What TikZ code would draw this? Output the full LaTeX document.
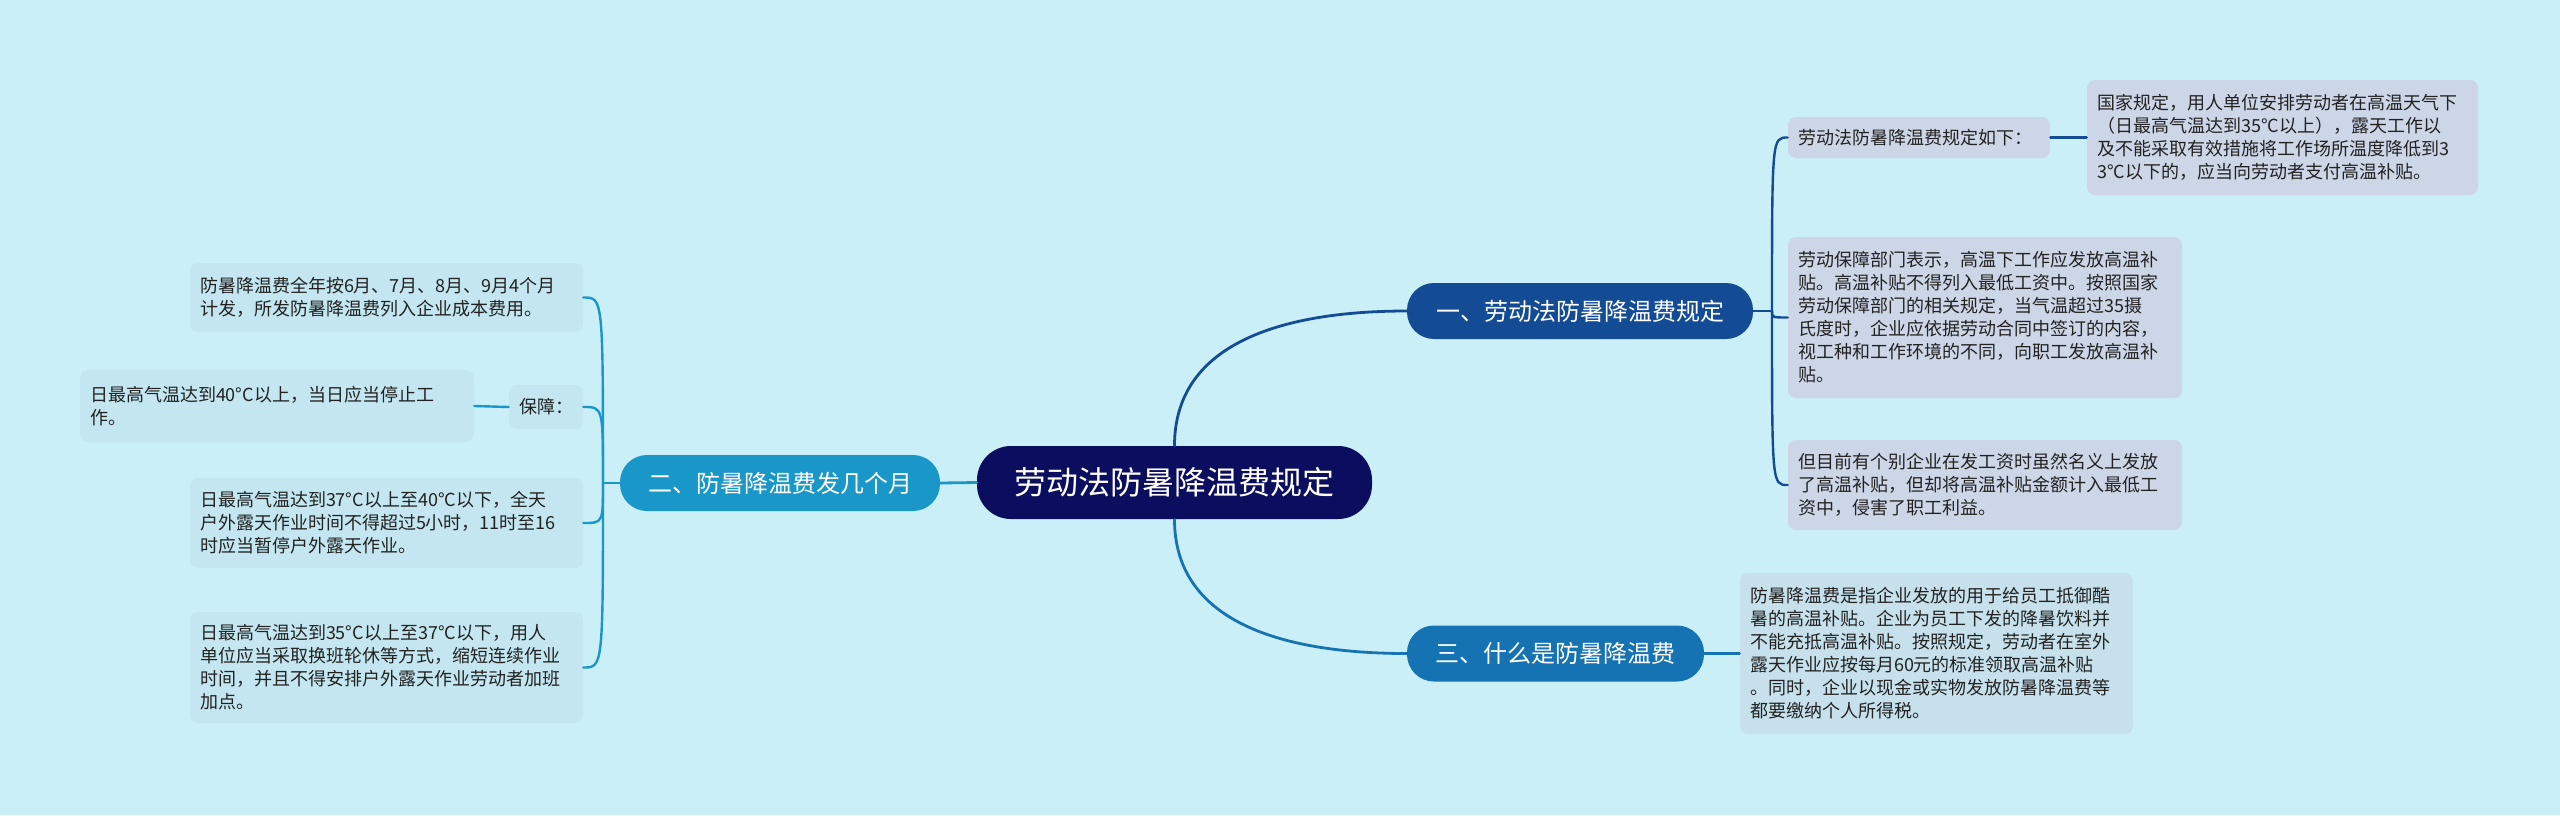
\documentclass[tikz,border=0pt]{standalone}
\usepackage{fontspec}
\setmainfont{Noto Sans CJK SC}
\usepackage{xcolor}
\definecolor{c-bg}{HTML}{CBEFF7}
\definecolor{c-root}{HTML}{0B0E5E}
\definecolor{c-one}{HTML}{134C95}
\definecolor{c-two}{HTML}{1A97C9}
\definecolor{c-three}{HTML}{1673B3}
\definecolor{c-leafa}{HTML}{CCD6E7}
\definecolor{c-leafb}{HTML}{C3E6F0}
\definecolor{c-leafc}{HTML}{C6E1EC}
\definecolor{c-txt}{HTML}{222222}

\begin{document}
\begin{tikzpicture}[x=0.5pt,y=-0.5pt,line cap=round,
  rootnode/.style={fill=c-root,text=white,rounded corners=17pt,font=\fontsize{16}{19}\selectfont,minimum width=197.5pt,minimum height=36.5pt,inner sep=0pt},
  branchnode/.style={fill=#1,text=white,rounded corners=13.5pt,font=\fontsize{12}{14}\selectfont,minimum height=28pt,inner sep=0pt},
  leafnode/.style={fill=#1,text=c-txt,rounded corners=4pt,font=\fontsize{9}{11.5}\selectfont,align=left,inner xsep=5pt,inner ysep=0pt},
  link/.style={draw=#1,line width=1.2pt},
  mainlink/.style={draw=#1,line width=1.4pt}]
\fill[c-bg] (0,0) rectangle (2560,815);
\useasboundingbox (0,0) rectangle (2560,815);
\node[rootnode] (root) at (1174.5,482.5) {劳动法防暑降温费规定};
\node[branchnode=c-one,minimum width=173pt] (b1) at (1580,311) {一、劳动法防暑降温费规定};
\node[branchnode=c-two,minimum width=160pt] (b2) at (780,483) {二、防暑降温费发几个月};
\node[branchnode=c-three,minimum width=148.5pt] (b3) at (1555.5,653.5) {三、什么是防暑降温费};
\node[leafnode=c-leafa,text width=121pt,minimum height=20.5pt] (a1) at (1919,137.5) {劳动法防暑降温费规定如下：};
\node[leafnode=c-leafa,text width=185.5pt,minimum height=57.5pt] (a2) at (2282.5,137.5) {国家规定，用人单位安排劳动者在高温天气下\\（日最高气温达到35°C以上），露天工作以\\及不能采取有效措施将工作场所温度降低到3\\3°C以下的，应当向劳动者支付高温补贴。};
\node[leafnode=c-leafa,text width=187pt,minimum height=80.5pt] (a3) at (1985,317.5) {劳动保障部门表示，高温下工作应发放高温补\\贴。高温补贴不得列入最低工资中。按照国家\\劳动保障部门的相关规定，当气温超过35摄\\氏度时，企业应依据劳动合同中签订的内容，\\视工种和工作环境的不同，向职工发放高温补\\贴。};
\node[leafnode=c-leafa,text width=187pt,minimum height=45pt] (a4) at (1985,485) {但目前有个别企业在发工资时虽然名义上发放\\了高温补贴，但却将高温补贴金额计入最低工\\资中，侵害了职工利益。};
\node[leafnode=c-leafc,text width=186.5pt,minimum height=80.5pt] (c1) at (1936.5,653.5) {防暑降温费是指企业发放的用于给员工抵御酷\\暑的高温补贴。企业为员工下发的降暑饮料并\\不能充抵高温补贴。按照规定，劳动者在室外\\露天作业应按每月60元的标准领取高温补贴\\。同时，企业以现金或实物发放防暑降温费等\\都要缴纳个人所得税。};
\node[leafnode=c-leafb,text width=186.5pt,minimum height=34.5pt] (l1) at (386.5,297.5) {防暑降温费全年按6月、7月、8月、9月4个月\\计发，所发防暑降温费列入企业成本费用。};
\node[leafnode=c-leafb,text width=27pt,minimum height=22pt] (l2) at (546,407) {保障：};
\node[leafnode=c-leafb,text width=187pt,minimum height=36pt] (l3) at (277,406) {日最高气温达到40°C以上，当日应当停止工\\作。};
\node[leafnode=c-leafb,text width=186.5pt,minimum height=45pt] (l4) at (386.5,523) {日最高气温达到37°C以上至40°C以下，全天\\户外露天作业时间不得超过5小时，11时至16\\时应当暂停户外露天作业。};
\node[leafnode=c-leafb,text width=186.5pt,minimum height=55.5pt] (l5) at (386.5,667.5) {日最高气温达到35°C以上至37°C以下，用人\\单位应当采取换班轮休等方式，缩短连续作业\\时间，并且不得安排户外露天作业劳动者加班\\加点。};
\draw[mainlink=c-one] (root.north) .. controls +(0,-106) and +(-117,0) .. (b1.west);
\draw[mainlink=c-three] (root.south) .. controls +(0,106) and +(-117,0) .. (b3.west);
\draw[mainlink=c-two] (root.west) -- (b2.east);
\coordinate (j1) at (1772,311);
\coordinate (j2) at (603,483);
\draw[link=c-one] (b1.east) -- (j1);
\foreach \n in {a1,a3,a4}
  \draw[link=c-one] (j1) .. controls (j1 |- \n.west) and (j1 |- \n.west) .. (\n.west);
\draw[link=c-one] (a1.east) -- (a2.west);
\draw[link=c-three] (b3.east) -- (c1.west);
\draw[link=c-two] (b2.west) -- (j2);
\foreach \n in {l1,l2,l4,l5}
  \draw[link=c-two] (j2) .. controls (j2 |- \n.east) and (j2 |- \n.east) .. (\n.east);
\draw[link=c-two] (l2.west) -- (l3.east);
\end{tikzpicture}
\end{document}
